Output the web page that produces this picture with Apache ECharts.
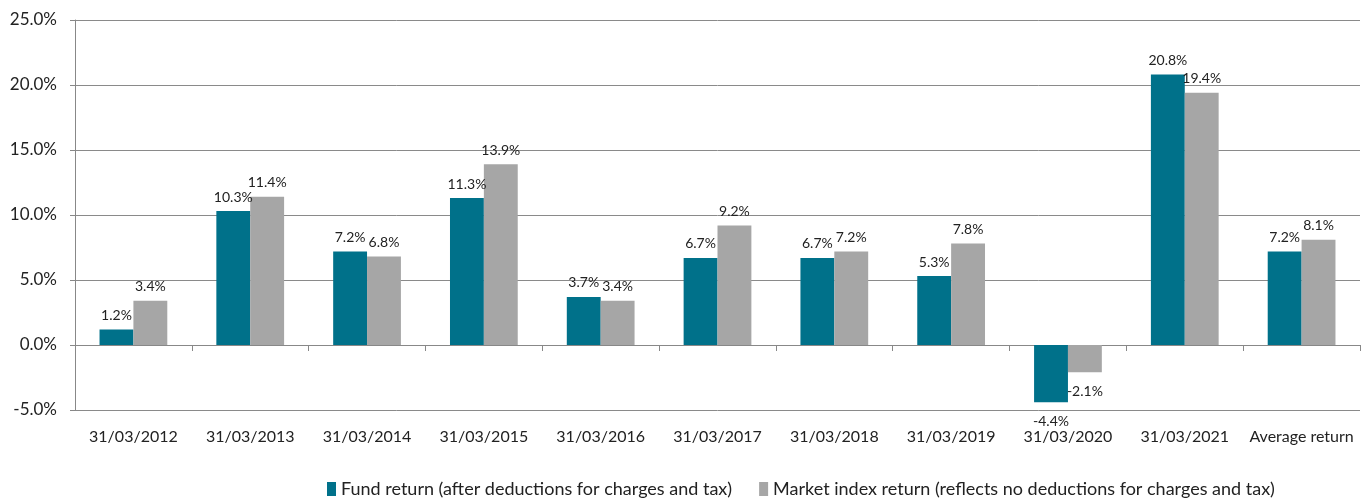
<!DOCTYPE html>
<html><head><meta charset="utf-8">
<script src="https://cdn.jsdelivr.net/npm/echarts@6/dist/echarts.min.js"></script>
<style>html,body{margin:0;padding:0;background:#fff}#c{width:1369px;height:498px}</style>
</head><body><div id="c"></div>
<script>
const categories = ['31/03/2012','31/03/2013','31/03/2014','31/03/2015','31/03/2016','31/03/2017','31/03/2018','31/03/2019','31/03/2020','31/03/2021','Average return'];
const fundReturn = [1.2, 10.3, 7.2, 11.3, 3.7, 6.7, 6.7, 5.3, -4.4, 20.8, 7.2];
const indexReturn = [3.4, 11.4, 6.8, 13.9, 3.4, 9.2, 7.2, 7.8, -2.1, 19.4, 8.1];
const seriesNames = ['Fund return (after deductions for charges and tax)', 'Market index return (reflects no deductions for charges and tax)'];
const yTicks = {min: -5, max: 25, interval: 5};

const font = 'Lato, "Open Sans", sans-serif';
const chart = echarts.init(document.getElementById('c'));
const lbl = {
  show: true,
  position: 'top',
  distance: 7,
  fontFamily: font,
  fontSize: 14,
  color: '#222',
  formatter: p => p.value.toFixed(1) + '%'
};
function mkData(arr) {
  return arr.map(v => ({value: v, label: v < 0 ? {position: 'bottom', distance: 12} : {}}));
}
chart.setOption({
  animation: false,
  grid: {left: 75, right: 9, top: 20, bottom: 88, outerBoundsMode: 'none', containLabel: false},
  legend: {
    top: 475,
    left: 322,
    icon: 'rect',
    itemWidth: 9,
    itemHeight: 14,
    itemGap: 27,
    textStyle: {fontFamily: font, fontSize: 18, color: '#222'},
    data: seriesNames
  },
  xAxis: [{
    type: 'category',
    data: categories,
    axisLine: {onZero: true, lineStyle: {color: '#888', width: 1}},
    axisTick: {show: true, length: 6, lineStyle: {color: '#888'}},
    axisLabel: {show: false}
  }, {
    type: 'category',
    data: categories,
    position: 'bottom',
    axisLine: {show: false, onZero: false},
    axisTick: {show: false},
    axisLabel: {interval: 0, margin: 19, fontFamily: font, fontSize: 16, color: '#222'}
  }],
  yAxis: {
    type: 'value',
    min: yTicks.min, max: yTicks.max, interval: yTicks.interval,
    axisLine: {show: true, lineStyle: {color: '#888'}},
    axisTick: {show: true, length: 5, lineStyle: {color: '#888'}},
    splitLine: {lineStyle: {color: '#8a8a8a', width: 1}},
    axisLabel: {fontFamily: font, fontSize: 17, color: '#222', margin: 18, formatter: v => v.toFixed(1) + '%'}
  },
  series: [
    {name: seriesNames[0], type: 'bar', xAxisIndex: 0, data: mkData(fundReturn), itemStyle: {color: '#00718A'}, barGap: '0%', barCategoryGap: '42%', label: lbl},
    {name: seriesNames[1], type: 'bar', xAxisIndex: 0, data: mkData(indexReturn), itemStyle: {color: '#A6A6A6'}, barGap: '0%', barCategoryGap: '42%', label: lbl}
  ]
});
</script></body></html>
